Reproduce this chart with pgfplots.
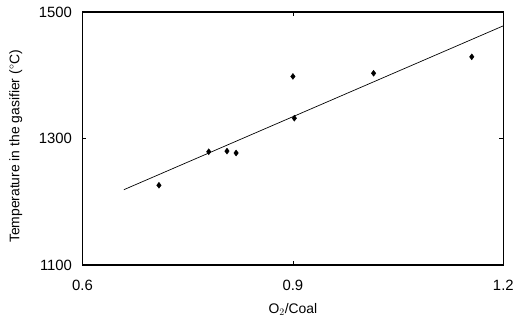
\documentclass[border=0pt]{standalone}
\usepackage{pgfplots}
\pgfplotsset{compat=1.18}
\usepackage{fontspec}
\setmainfont{Liberation Sans}
\begin{document}
\begin{tikzpicture}
\begin{axis}[
  scale only axis,
  width=424pt, height=255pt,
  xmin=0.6, xmax=1.2, ymin=1100, ymax=1500,
  xtick={0.6,0.9,1.2}, xticklabels={0.6,0.9,1.2},
  ytick={1100,1300,1500},
  /pgf/number format/assume math mode=true,
  /pgf/number format/set thousands separator={},
  tick label style={font=\fontsize{15}{17}\selectfont},
  xticklabel style={yshift=-12pt},
  yticklabel style={xshift=-7pt},
  tick align=inside,
  major tick length=4pt,
  axis line style={line width=1.5pt},
  every tick/.style={black, line width=0.5pt},
  xlabel={O$_2$/Coal},
  ylabel={Temperature in the gasifier ($^\circ$C)},
  label style={font=\fontsize{14}{16}\selectfont},
  xlabel style={yshift=-6pt},
  ylabel style={yshift=10pt, xshift=-8pt},
  clip=false,
]
\path[draw=none] (rel axis cs:-0.196,-0.231) rectangle (rel axis cs:1.0236,1.047);
\addplot[only marks, mark=diamond*, mark size=3pt, black] coordinates {
  (0.709,1226) (0.780,1279) (0.806,1280) (0.819,1277)
  (0.900,1398) (0.902,1332) (1.015,1403) (1.155,1429)
};
\addplot[black, line width=0.7pt] coordinates {(0.659,1219) (1.2,1478)};
\end{axis}
\end{tikzpicture}
\end{document}
